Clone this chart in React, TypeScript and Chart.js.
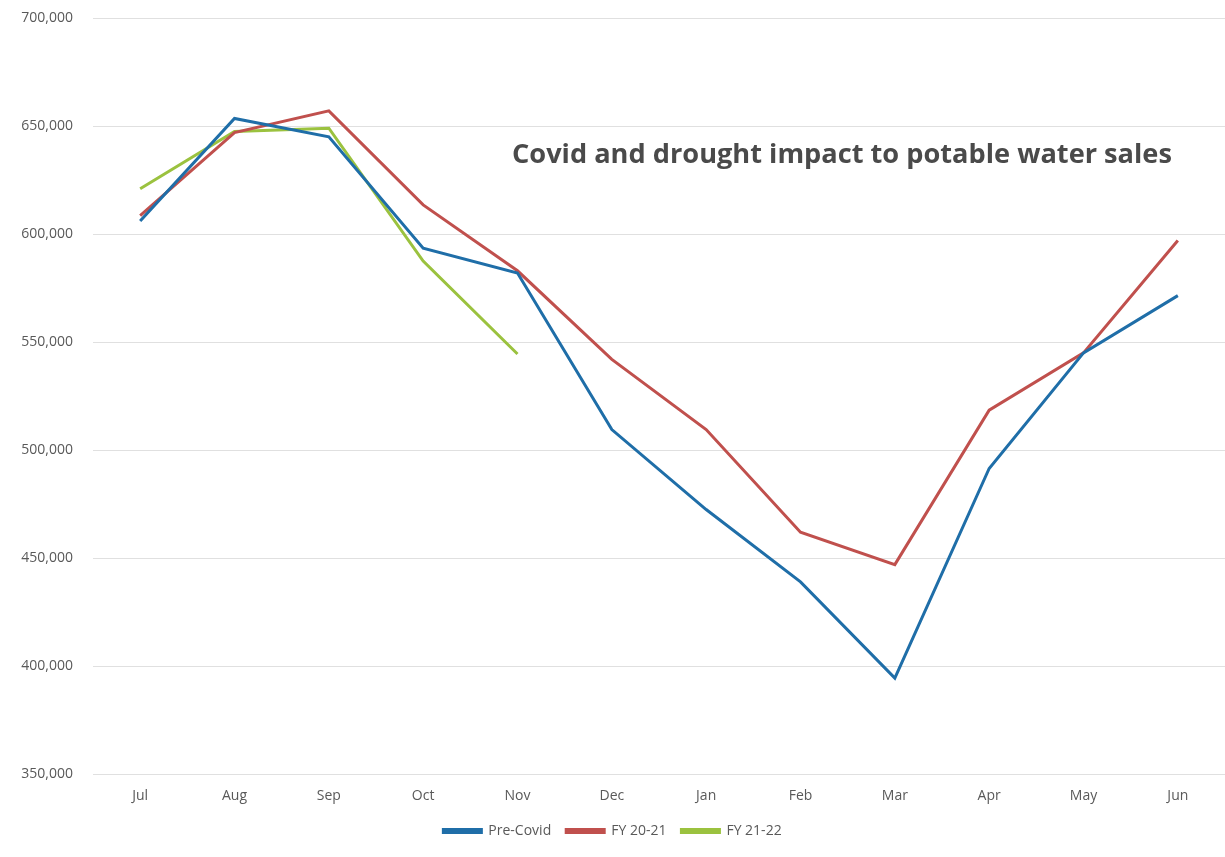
import React, { useEffect, useRef } from "react";
import { Chart, registerables } from "chart.js";

Chart.register(...registerables);

const months = ["Jul", "Aug", "Sep", "Oct", "Nov", "Dec", "Jan", "Feb", "Mar", "Apr", "May", "Jun"];
const preCovid = [606000, 653500, 645000, 593500, 582000, 509500, 472500, 439000, 394500, 491500, 545000, 571500];
const fy2021 = [608500, 647000, 657000, 613500, 583000, 542000, 509500, 462000, 447000, 518500, 545000, 597000];
const fy2122 = [621000, 647500, 649000, 587500, 544500, null, null, null, null, null, null, null];
const yMin = 350000;
const yMax = 700000;
const yStep = 50000;
const titleText = "Covid and drought impact to potable water sales";

const titlePlugin = {
  id: "insideTitle",
  afterDraw(chart: any) {
    const ctx = chart.ctx;
    ctx.save();
    const targetWidth = 660;
    let size = 28;
    ctx.font = `bold ${size}px "Open Sans"`;
    const w = ctx.measureText(titleText).width;
    size = (size * targetWidth) / w;
    ctx.font = `bold ${size}px "Open Sans"`;
    ctx.fillStyle = "#4a4a4a";
    ctx.textAlign = "left";
    ctx.textBaseline = "middle";
    ctx.fillText(titleText, 512, 155);
    ctx.restore();
  },
};

export default function App() {
  const ref = useRef<HTMLCanvasElement>(null);
  useEffect(() => {
    if (!ref.current) return;
    const chart = new Chart(ref.current, {
      type: "line",
      data: {
        labels: months,
        datasets: [
          { label: "Pre-Covid", data: preCovid, borderColor: "#1f6ea8", backgroundColor: "#1f6ea8", borderWidth: 3, pointRadius: 0, tension: 0 },
          { label: "FY 20-21", data: fy2021, borderColor: "#c0504d", backgroundColor: "#c0504d", borderWidth: 3, pointRadius: 0, tension: 0 },
          { label: "FY 21-22", data: fy2122, borderColor: "#9bc23f", backgroundColor: "#9bc23f", borderWidth: 3, pointRadius: 0, tension: 0 },
        ],
      },
      options: {
        responsive: false,
        animation: false,
        layout: { padding: { left: 0, right: 0, top: 18, bottom: 9 } },
        scales: {
          x: {
            offset: true,
            grid: { display: false },
            border: { display: false },
            ticks: { color: "#595959", font: { family: "Open Sans", size: 14 }, padding: 5 },
          },
          y: {
            min: yMin,
            max: yMax,
            afterFit: (axis: any) => {
              axis.width = 93;
              axis.paddingTop = 0;
              axis.paddingBottom = 0;
            },
            ticks: {
              stepSize: yStep,
              color: "#595959",
              font: { family: "Open Sans", size: 14 },
              padding: 20,
              callback: (v: any) => Number(v).toLocaleString("en-US"),
            },
            grid: { color: "#e0e0e0", lineWidth: 1, drawTicks: false },
            border: { display: false },
          },
        },
        plugins: {
          legend: {
            position: "bottom",
            labels: {
              color: "#595959",
              font: { family: "Open Sans", size: 14 },
              boxWidth: 38,
              boxHeight: 3,
              padding: 15,
            },
          },
          tooltip: { enabled: false },
        },
      },
      plugins: [titlePlugin],
    });
    return () => chart.destroy();
  }, []);
  return (
    <div style={{ position: "fixed", left: 0, top: 0, width: 1225, height: 857, background: "#fff" }}>
      <canvas ref={ref} width={1225} height={857} style={{ display: "block" }} />
    </div>
  );
}
